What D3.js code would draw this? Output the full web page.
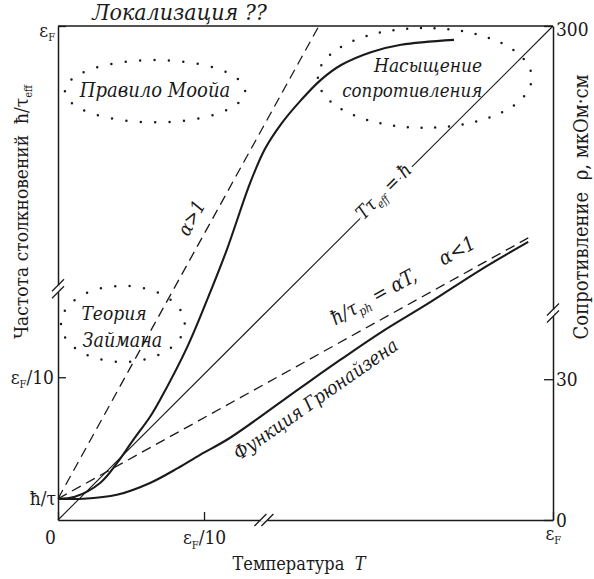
<!DOCTYPE html>
<html>
<head>
<meta charset="utf-8">
<script src="https://cdn.jsdelivr.net/npm/d3@7"></script>
<style>
  body { margin: 0; background: #fff; }
  svg text { font-family: "DejaVu Serif Condensed", "DejaVu Serif", serif; font-stretch: condensed; fill: #1a1a1a; }
  .it { font-style: italic; }
</style>
</head>
<body>
<div id="chart"></div>
<script>
// Значения в процентах от длины каждой оси (схематический рисунок)
var xTicks = [0, 29.5, 100];
var xTickLabels = ["0", "ε_{F}/10", "ε_{F}"];
var yLeftTicks = [4.3, 28.9, 100];
var yLeftLabels = ["ħ/τ", "ε_{F}/10", "ε_{F}"];
var yRightTicks = [0, 28.5, 100];
var yRightLabels = ["0", "30", "300"];
var xBreak = 41.6, yLeftBreak = 46.8, yRightBreak = 41.9;

// насыщение (α>1)
var saturation = [[0, 4.3], [3.4, 4.7], [8.5, 7.5], [11.9, 11.5], [15.2, 16.2], [18.6, 20.9],
  [20.6, 24.3], [26.1, 35.0], [30.1, 44.5], [34.1, 54.7], [38.8, 68.2], [41.8, 75.1],
  [45.1, 80.2], [49.1, 85.0], [53.1, 89.1], [57.2, 92.1], [63.2, 94.7], [69.3, 96.2], [80.0, 97.2]];
// функция Грюнайзена
var gruneisen = [[0, 4.3], [5.1, 4.3], [11.9, 5.1], [18.6, 7.5], [24.2, 10.5], [28.7, 13.2],
  [34.7, 16.6], [48.9, 26.7], [57.0, 32.4], [65.1, 37.9], [75.2, 44.1], [85.3, 50.6], [95.0, 56.3]];
var phononLine = [[0, 4.3], [95.0, 57.1]];
var steepLine = [[0, 4.3], [52.7, 100]];
var diagonal = [[0, 0], [100, 100]];

// области (пунктирные эллипсы)
var regions = [
  { cx: 19.6, cy: 86.8, rx: 18.2, ry: 6.3, n: 28 },
  { cx: 74.1, cy: 89.5, rx: 21.6, ry: 10.1, n: 37 },
  { cx: 13.1, cy: 39.7, rx: 12.5, ry: 7.7, n: 22 }
];

var margin = { top: 26, right: 41, bottom: 59, left: 58 };
var width = 594 - margin.left - margin.right;
var height = 579 - margin.top - margin.bottom;

var svg = d3.select("#chart").append("svg")
    .attr("width", 594)
    .attr("height", 579);
var g = svg.append("g")
    .attr("transform", "translate(" + margin.left + "," + margin.top + ")");

var x = d3.scaleLinear().domain([0, 100]).range([0, width]);
var y = d3.scaleLinear().domain([0, 100]).range([height, 0]);

// текст с нижними индексами: "ε_{F}"
function rich(sel, str, fs) {
  var parts = str.split(/(_\{[^}]*\})/);
  var down = false;
  parts.forEach(function(p) {
    if (!p) return;
    if (p[0] == "_") {
      sel.append("tspan").attr("font-size", Math.round(fs * 0.6)).attr("dy", fs * 0.22).text(p.slice(2, -1));
      down = true;
    } else {
      var t = sel.append("tspan").text(p);
      if (down) { t.attr("dy", -fs * 0.22); down = false; }
    }
  });
}

var line = d3.line().x(function(d) { return x(d[0]); }).y(function(d) { return y(d[1]); });
var curve = d3.line().x(function(d) { return x(d[0]); }).y(function(d) { return y(d[1]); })
    .curve(d3.curveCatmullRom.alpha(0.5));

// линии
g.append("path").attr("d", line(diagonal))
    .attr("fill", "none").attr("stroke", "#1a1a1a").attr("stroke-width", 1.1);
g.append("path").attr("d", line(steepLine))
    .attr("fill", "none").attr("stroke", "#1a1a1a").attr("stroke-width", 1.3).attr("stroke-dasharray", "10,6");
g.append("path").attr("d", line(phononLine))
    .attr("fill", "none").attr("stroke", "#1a1a1a").attr("stroke-width", 1.3).attr("stroke-dasharray", "10,6");
g.append("path").attr("d", curve(saturation))
    .attr("fill", "none").attr("stroke", "#1a1a1a").attr("stroke-width", 2.1);
g.append("path").attr("d", curve(gruneisen))
    .attr("fill", "none").attr("stroke", "#1a1a1a").attr("stroke-width", 2.1);

// пунктирные эллипсы
regions.forEach(function(r) {
  var cx = x(r.cx), cy = y(r.cy), rx = x(r.rx) - x(0), ry = y(0) - y(r.ry);
  var p = g.append("path")
      .attr("d", "M" + (cx - rx) + "," + cy + " A" + rx + " " + ry + " 0 1 0 " + (cx + rx) + "," + cy +
                 " A" + rx + " " + ry + " 0 1 0 " + (cx - rx) + "," + cy)
      .attr("fill", "none").attr("stroke", "#1a1a1a").attr("stroke-width", 2.5)
      .attr("stroke-linecap", "round");
  var L = p.node().getTotalLength();
  p.attr("stroke-dasharray", "0," + (L / r.n));
});

// оси
var axB = g.append("g").attr("transform", "translate(0," + height + ")")
    .call(d3.axisBottom(x).tickValues(xTicks).tickSize(-8).tickSizeOuter(0).tickPadding(11));
var axL = g.append("g")
    .call(d3.axisLeft(y).tickValues(yLeftTicks).tickSize(-8).tickSizeOuter(0).tickPadding(4));
var axR = g.append("g").attr("transform", "translate(" + width + ",0)")
    .call(d3.axisRight(y).tickValues(yRightTicks).tickSize(-9).tickSizeOuter(0).tickPadding(3));

[axB, axL, axR].forEach(function(a) {
  a.attr("font-family", null);
  a.select(".domain").attr("stroke", "#1a1a1a").attr("stroke-width", 1.5);
  a.selectAll(".tick line").attr("stroke", "#1a1a1a").attr("stroke-width", 1.3);
  a.selectAll(".tick text").attr("font-size", 19).attr("fill", "#1a1a1a").text("");
});
axB.selectAll(".tick text").each(function(d, i) {
  var t = d3.select(this);
  rich(t, xTickLabels[i], 19);
  if (i == 0) t.attr("x", -8);
  if (i == 2) t.attr("x", -8).attr("dy", "0.45em").attr("text-anchor", "start");
});
axL.selectAll(".tick text").each(function(d, i) {
  var t = d3.select(this);
  rich(t, yLeftLabels[i], 19);
  if (i == 0) t.attr("x", -2);
  if (i == 2) t.attr("dy", "0.55em").attr("x", -3);
});
axR.selectAll(".tick text").each(function(d, i) {
  var t = d3.select(this);
  rich(t, yRightLabels[i], 19);
  if (i == 2) t.attr("dy", "0.5em");
});

// верхняя граница
g.append("line")
    .attr("x1", x(0)).attr("x2", x(100)).attr("y1", y(100)).attr("y2", y(100))
    .attr("stroke", "#1a1a1a").attr("stroke-width", 1.5);

// разрывы осей
function brk(px, py, dx, dy) {
  g.append("line")
      .attr("x1", px - dx * 3.5).attr("y1", py - dy * 3.5)
      .attr("x2", px + dx * 3.5).attr("y2", py + dy * 3.5)
      .attr("stroke", "#fff").attr("stroke-width", 3);
  [-1, 1].forEach(function(s) {
    var cx = px + s * dx * 3.5, cy = py + s * dy * 3.5;
    g.append("line")
        .attr("x1", cx - 6).attr("y1", cy + 6).attr("x2", cx + 6).attr("y2", cy - 6)
        .attr("stroke", "#1a1a1a").attr("stroke-width", 1.3);
  });
}
brk(x(xBreak), y(0), 1, 0);
brk(x(0), y(yLeftBreak), 0, 1);
brk(x(100), y(yRightBreak), 0, 1);

// подписи внутри графика
function angle(seg) {
  return Math.atan2(y(seg[1][1]) - y(seg[0][1]), x(seg[1][0]) - x(seg[0][0])) * 180 / Math.PI;
}

var labels = [
  { u: 6.9, v: 101.2, s: "Локализация ??", a: "start", fs: 23, r: 0 },
  { u: 19.6, v: 85.6, s: "Правило Моойа", a: "middle", fs: 20, r: 0 },
  { u: 85.7, v: 90.7, s: "Насыщение", a: "end", fs: 19, r: 0 },
  { u: 85.7, v: 85.6, s: "сопротивления", a: "end", fs: 18.5, r: 0 },
  { u: 11.3, v: 40.5, s: "Теория", a: "middle", fs: 19, r: 0 },
  { u: 13.0, v: 35.0, s: "Займана", a: "middle", fs: 19.5, r: 0 },
  { u: 66.7, v: 65.6, s: "Tτ_{eff} = ħ", a: "middle", fs: 19, r: angle(diagonal), halo: true },
  { u: 56.0, v: 39.3, s: "ħ/τ_{ph} = αT,     α<1", a: "start", fs: 20, r: angle(phononLine) },
  { u: 36.6, v: 12.0, s: "Функция Грюнайзена", a: "start", fs: 19, r: -35 },
  { u: 28.1, v: 60.5, s: "α>1", a: "middle", fs: 19, r: angle(steepLine) }
];
labels.forEach(function(l) {
  var t = g.append("text")
      .attr("class", "it")
      .attr("font-size", l.fs)
      .attr("text-anchor", l.a)
      .style("white-space", "pre")
      .attr("transform", "translate(" + x(l.u) + "," + y(l.v) + ") rotate(" + l.r + ")");
  if (l.halo) t.attr("stroke", "#fff").attr("stroke-width", 7).attr("paint-order", "stroke");
  rich(t, l.s, l.fs);
});

// названия осей
var tB = svg.append("text").attr("x", 299).attr("y", 570).attr("text-anchor", "middle").attr("font-size", 18)
    .style("white-space", "pre");
tB.append("tspan").text("Температура  ");
tB.append("tspan").attr("class", "it").text("T");

var tL = svg.append("text").attr("text-anchor", "middle").attr("font-size", 19)
    .style("white-space", "pre")
    .attr("transform", "translate(28,212) rotate(-90)");
rich(tL, "Частота столкновений  ħ/τ_{eff}", 19);

var tR = svg.append("text").attr("text-anchor", "middle").attr("font-size", 20)
    .style("white-space", "pre")
    .attr("transform", "translate(588,207) rotate(-90)");
tR.text("Сопротивление  ρ, мкОм·см");
</script>
</body>
</html>
